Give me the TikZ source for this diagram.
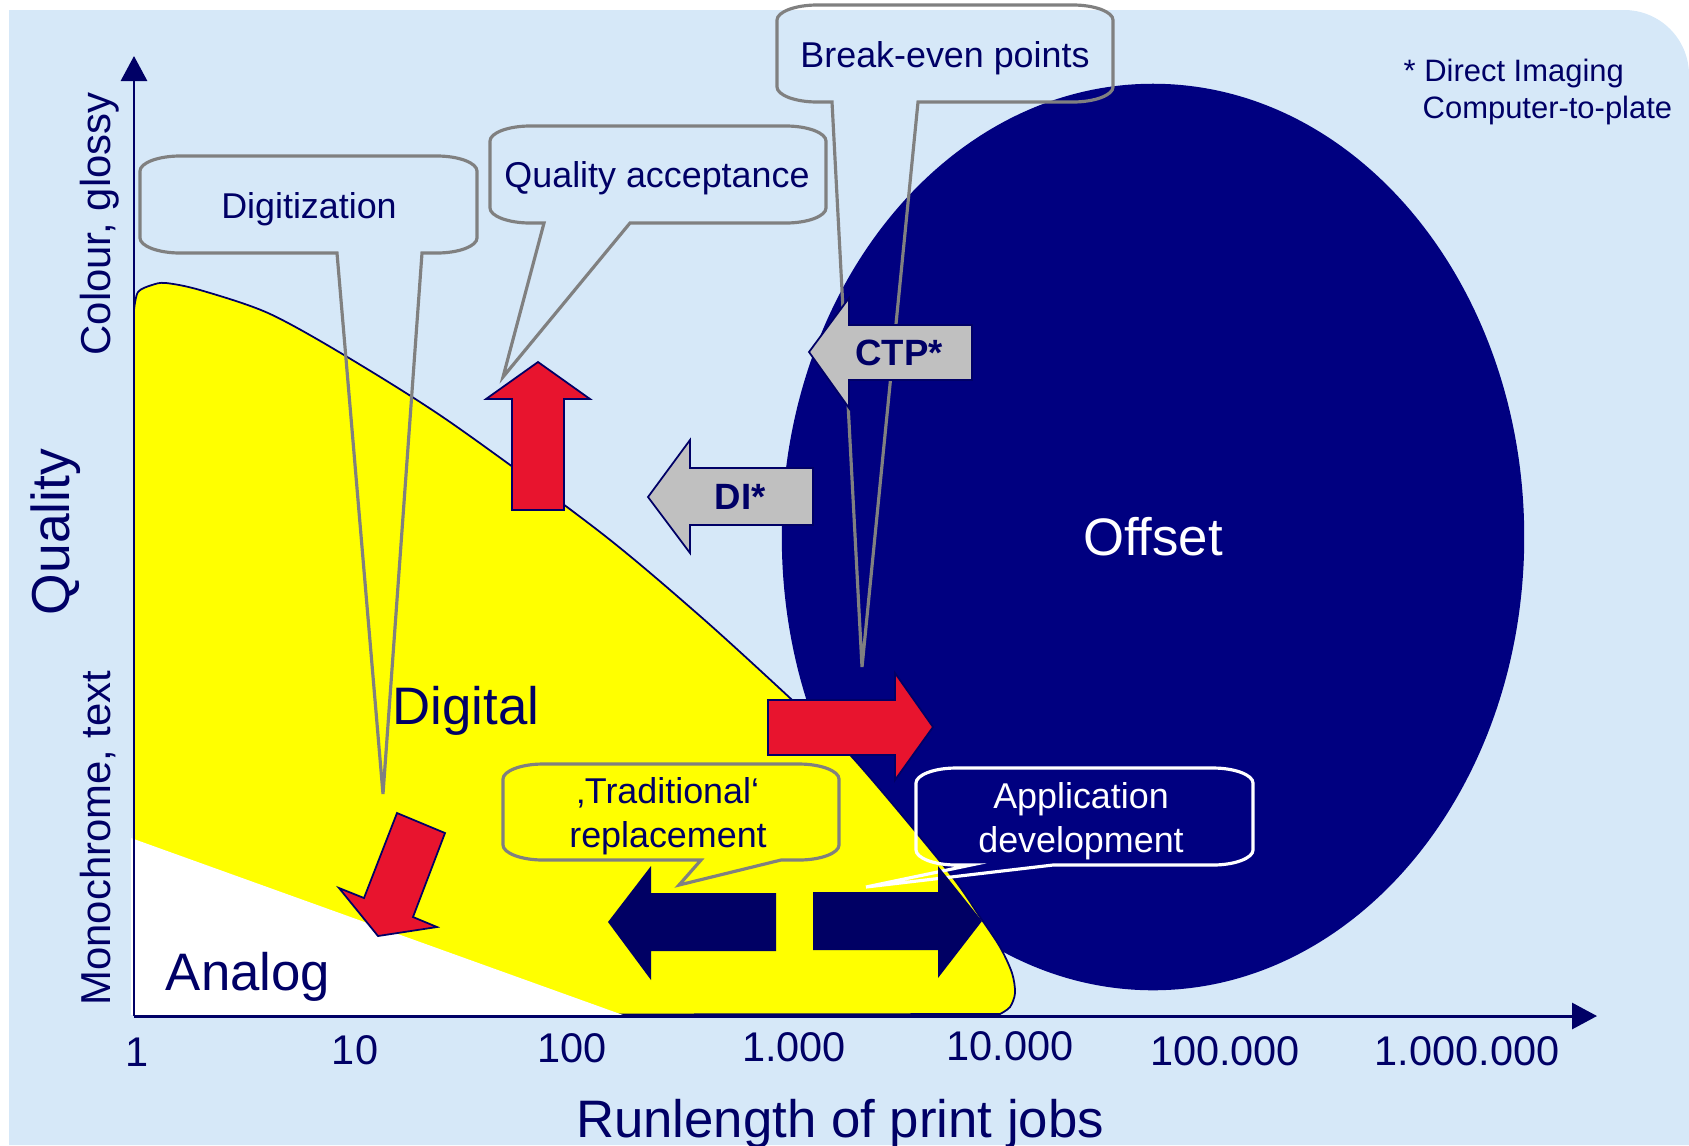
\documentclass[tikz,border=0pt]{standalone}
\usepackage{fontspec}
\setmainfont{Liberation Sans}
\usetikzlibrary{arrows.meta,shapes.geometric}
\definecolor{bgblue}{RGB}{214,232,248}
\definecolor{darknavy}{RGB}{0,0,102}
\definecolor{offsetnavy}{RGB}{0,0,128}
\definecolor{arrownavy}{RGB}{0,0,100}
\definecolor{arrowred}{RGB}{232,20,46}
\definecolor{ctpgray}{RGB}{192,192,192}
\definecolor{calloutgray}{RGB}{128,128,128}
\definecolor{digitalyellow}{RGB}{255,255,0}

\begin{document}
\begin{tikzpicture}[x=0.01cm,y=-0.01cm,
        axisline/.style={draw=darknavy,line width=0.85pt,-{Triangle[length=0.25cm,width=0.26cm]}},
        calloutline/.style={draw=calloutgray,line width=0.9pt},
        appline/.style={draw=white,line width=0.9pt},
        redarrow/.style={fill=arrowred,draw=darknavy,line width=0.5pt},
        grayarrow/.style={fill=ctpgray,draw=darknavy,line width=0.5pt},
        navyarrow/.style={fill=arrownavy},
        txt/.style={text=darknavy,inner sep=0pt},
        calloutlabel/.style={txt,font=\fontsize{10.2pt}{12.4pt}\selectfont},
        ticklabel/.style={txt,font=\fontsize{11.8pt}{14pt}\selectfont},
        biglabel/.style={txt,font=\fontsize{15pt}{18pt}\selectfont},
        sidelabel/.style={txt,font=\fontsize{11.9pt}{14pt}\selectfont,rotate=90,anchor=base},
        notelabel/.style={txt,font=\fontsize{8.8pt}{10.5pt}\selectfont,anchor=base west},
        arrowlabel/.style={txt,font=\fontsize{10.4pt}{12pt}\selectfont\bfseries}]
        \useasboundingbox (0,0) rectangle (1689,1145);
        \fill[bgblue] (9,1145) -- (9,10) -- (1624,10) .. controls +(36,0) and +(0,-36) .. (1689,75) -- (1689,1145) -- cycle;

        \node[ellipse,fill=offsetnavy,minimum width=7.42cm,minimum height=9.06cm,inner sep=0pt,
            text=white,font=\fontsize{15pt}{18pt}\selectfont] (offset) at (1153,537) {Offset};

        \filldraw[fill=digitalyellow,draw=darknavy,line width=0.5pt] (134,1015) -- plot[smooth] coordinates {
            (134,310) (138,292) (152,285) (166,283) (200,290) (268,313) (344,355) (450,422) (600,532)
            (700,616) (790,698) (852,757) (947,870) (980,917)
            (1000,947) (1012,973) (1015,993) (1010,1007) (1000,1014)} -- cycle;
        \fill[white] (131,838) -- (623,1015) -- (131,1015) -- cycle;

        \coordinate (origin) at (134,1016);
        \coordinate (ytop) at (134,56);
        \coordinate (xend) at (1597,1016);
        \draw[axisline] (origin) -- (ytop);
        \draw[axisline] (origin) -- (xend);

        \node[ticklabel] (t1) at (137,1052) {1};
        \node[ticklabel] (t10) at (355,1050) {10};
        \node[ticklabel] (t100) at (572,1048) {100};
        \node[ticklabel] (t1k) at (794,1047) {1.000};
        \node[ticklabel] (t10k) at (1010,1046) {10.000};
        \node[ticklabel] (t100k) at (1225,1051) {100.000};
        \node[ticklabel] (t1m) at (1467,1051) {1.000.000};
        \node[biglabel,anchor=base] (runlength) at (840,1137) {Runlength of print jobs};
        \node[sidelabel,font=\fontsize{15.2pt}{18pt}\selectfont] (quality) at (69,532) {Quality};
        \node[sidelabel] (colour) at (110,224) {Colour, glossy};
        \node[sidelabel] (mono) at (110,838) {Monochrome, text};
        \node[biglabel,anchor=base] (digital) at (466,724) {Digital};
        \node[biglabel,anchor=base] (analog) at (248,990) {Analog};
        \node[notelabel] (di) at (1403,81) {* Direct Imaging};
        \node[notelabel] (ctp) at (1422,118) {Computer-to-plate};

        \draw[calloutline] (337,253) -- (383,794) -- (422,253) -- (437,253) .. controls +(22,0) and +(0,8) .. (477,238)
            -- (477,171) .. controls +(0,-8) and +(22,0) .. (437,156) -- (180,156) .. controls +(-22,0) and +(0,-8) .. (140,171)
            -- (140,238) .. controls +(0,8) and +(-22,0) .. (180,253) -- cycle;
        \draw[calloutline] (544,223) -- (503,377) -- (630,223) -- (786,223) .. controls +(22,0) and +(0,8) .. (826,208)
            -- (826,141) .. controls +(0,-8) and +(22,0) .. (786,126) -- (530,126) .. controls +(-22,0) and +(0,-8) .. (490,141)
            -- (490,208) .. controls +(0,8) and +(-22,0) .. (530,223) -- cycle;
        \draw[calloutline] (832,102) -- (862,667) -- (918,102) -- (1073,102) .. controls +(22,0) and +(0,8) .. (1113,87)
            -- (1113,20) .. controls +(0,-8) and +(22,0) .. (1073,5) -- (817,5) .. controls +(-22,0) and +(0,-8) .. (777,20)
            -- (777,87) .. controls +(0,8) and +(-22,0) .. (817,102) -- cycle;
        \draw[calloutline] (701,860) -- (679,885) -- (781,860) -- (799,860) .. controls +(22,0) and +(0,8) .. (839,845)
            -- (839,779) .. controls +(0,-8) and +(22,0) .. (799,764) -- (543,764) .. controls +(-22,0) and +(0,-8) .. (503,779)
            -- (503,845) .. controls +(0,8) and +(-22,0) .. (543,860) -- cycle;
        \draw[appline] (971,865) -- (866,887) -- (1053,865) -- (1213,865) .. controls +(22,0) and +(0,8) .. (1253,850)
            -- (1253,783) .. controls +(0,-8) and +(22,0) .. (1213,768) -- (956,768) .. controls +(-22,0) and +(0,-8) .. (916,783)
            -- (916,850) .. controls +(0,8) and +(-22,0) .. (956,865) -- cycle;
        \node[calloutlabel,anchor=base] (digitization) at (309,218) {Digitization};
        \node[calloutlabel,anchor=base] (acceptance) at (657,187) {Quality acceptance};
        \node[calloutlabel,anchor=base] (breakeven) at (945,67) {Break-even points};
        \node[calloutlabel,align=center] (traditional) at (668,816) {‚Traditional‘\\replacement};
        \node[calloutlabel,align=center,text=white] (application) at (1081,821) {Application\\development};

        \draw[redarrow] (512,510) -- (512,399) -- (486,399) -- (538,362) -- (590,399) -- (564,399) -- (564,510) -- cycle;
        \draw[redarrow] (768,700) -- (895,700) -- (895,673) -- (933,727) -- (895,780) -- (895,755) -- (768,755) -- cycle;
        \draw[redarrow] (397,813) -- (445,833) -- (413,917) -- (437,927) -- (378,936) -- (339,888) -- (364,898) -- cycle;
        \draw[grayarrow] (813,468) -- (690,468) -- (690,440) -- (648,497) -- (690,553) -- (690,525) -- (813,525) -- cycle;
        \draw[grayarrow] (972,325) -- (849,325) -- (849,298) -- (809,352) -- (849,408) -- (849,380) -- (972,380) -- cycle;
        \fill[navyarrow] (776,893) -- (651,893) -- (651,866) -- (608,922) -- (651,980) -- (651,951) -- (776,951) -- cycle;
        \fill[navyarrow] (813,892) -- (938,892) -- (938,866) -- (982,921) -- (938,978) -- (938,950) -- (813,950) -- cycle;
        \node[arrowlabel] (dilabel) at (740,497) {DI*};
        \node[arrowlabel] (ctplabel) at (899,353) {CTP*};
    \end{tikzpicture}
\end{document}
